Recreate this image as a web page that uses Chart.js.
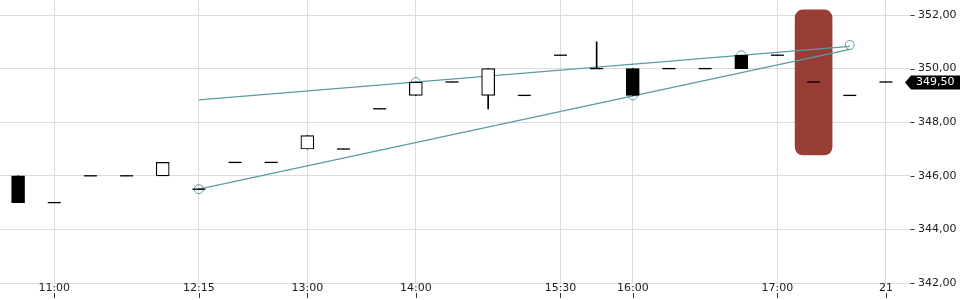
<!DOCTYPE html>
<html lang="de">
<head>
<meta charset="UTF-8">
<title>Kursverlauf</title>
<style>
  html, body { margin: 0; padding: 0; background: #fff; }
  #wrap { width: 960px; height: 300px; }
</style>
</head>
<body>
<div id="wrap"><canvas id="chart" width="960" height="300"></canvas></div>
<script src="https://cdn.jsdelivr.net/npm/chart.js"></script>
<script>
// candles, one per slot (index 0..24)
const opens  = [346, 345, 346, 346, 346,   345.5, 346.5, 346.5, 347,   347, 348.5, 349,   349.5, 349,   349, 350.5, 350, 350, 350, 350, 350.5, 350.5, 349.5, 349, 349.5];
const highs  = [346, 345, 346, 346, 346.5, 345.5, 346.5, 346.5, 347.5, 347, 348.5, 349.5, 349.5, 350,   349, 350.5, 351, 350, 350, 350, 350.5, 350.5, 349.5, 349, 349.5];
const lows   = [345, 345, 346, 346, 346,   345.5, 346.5, 346.5, 347,   347, 348.5, 349,   349.5, 348.5, 349, 350.5, 350, 349, 350, 350, 350,   350.5, 349.5, 349, 349.5];
const closes = [345, 345, 346, 346, 346.5, 345.5, 346.5, 346.5, 347.5, 347, 348.5, 349.5, 349.5, 350,   349, 350.5, 350, 349, 350, 350, 350,   350.5, 349.5, 349, 349.5];

// x axis labels (slot index -> text)
const xTickIdx    = [1, 5, 8, 11, 15, 17, 21, 24];
const xTickLabels = ['11:00', '12:15', '13:00', '14:00', '15:30', '16:00', '17:00', '21'];
const yTicks = [342, 344, 346, 348, 350, 352];

// trend lines and their anchor points
const upperLine = [{x: 5, y: 348.83}, {x: 23, y: 350.83}];
const lowerLine = [{x: 5, y: 345.5}, {x: 23, y: 350.72}];
const anchorIdx = [5, 11, 17, 20, 23];
const anchorVal = [345.5, 349.5, 349, 350.5, 350.88];

// highlighted zone
const zoneIdx = 22;
const zoneRange = [346.78, 352.19];

const teal = '#5a9ca0';
const fmt = v => v.toFixed(2).replace('.', ',');

const bodies = [], wicks = [], flats = [];
opens.forEach((o, i) => {
  const c = closes[i];
  wicks.push({x: i, y: [lows[i], highs[i]]});
  if (o !== c) bodies.push({x: i, y: [o, c]});
  else flats.push({x: i, y: c});
});
const bodyFill = bodies.map(b => b.y[1] < b.y[0] ? '#000' : '#fff');

const axisMarks = {
  id: 'axisMarks',
  afterDraw(chart) {
    const {ctx, chartArea, scales: {x, y}} = chart;
    ctx.save();
    ctx.strokeStyle = '#333';
    ctx.lineWidth = 1;
    xTickIdx.forEach(i => {
      const px = Math.round(x.getPixelForValue(i)) + 0.5;
      ctx.beginPath(); ctx.moveTo(px, 293); ctx.lineTo(px, 298); ctx.stroke();
    });
    yTicks.forEach(v => {
      const py = Math.round(y.getPixelForValue(v)) + 0.5;
      ctx.beginPath(); ctx.moveTo(chartArea.right + 6.5, py); ctx.lineTo(chartArea.right + 10.5, py); ctx.stroke();
    });
    // last price tag
    const last = closes[closes.length - 1];
    const py = Math.round(y.getPixelForValue(last)) + 0.5;
    const left = chartArea.right + 1;
    ctx.fillStyle = '#000';
    ctx.beginPath();
    ctx.moveTo(left, py);
    ctx.lineTo(left + 6, py - 7);
    ctx.lineTo(960, py - 7);
    ctx.lineTo(960, py + 7);
    ctx.lineTo(left + 6, py + 7);
    ctx.closePath();
    ctx.fill();
    ctx.fillStyle = '#fff';
    ctx.font = '11px "DejaVu Sans"';
    ctx.textBaseline = 'middle';
    ctx.fillText(fmt(last), left + 11, py);
    ctx.restore();
  }
};

new Chart(document.getElementById('chart'), {
  type: 'bar',
  data: {
    datasets: [
      {
        data: [{x: zoneIdx, y: zoneRange}],
        backgroundColor: '#993d37',
        barThickness: 37,
        borderRadius: 8,
        borderSkipped: false,
        grouped: false,
        order: 6
      },
      {
        type: 'line', data: upperLine, borderColor: teal, borderWidth: 1.2,
        pointRadius: 0, fill: false, order: 5
      },
      {
        type: 'line', data: lowerLine, borderColor: teal, borderWidth: 1.2,
        pointRadius: 0, fill: false, order: 5
      },
      {
        type: 'line', data: anchorIdx.map((x, i) => ({x, y: anchorVal[i]})),
        showLine: false, pointRadius: 4.5, pointBorderColor: teal, pointBorderWidth: 1,
        pointBackgroundColor: 'rgba(0,0,0,0)', order: 4
      },
      {
        data: wicks, backgroundColor: '#000', barThickness: 1, grouped: false, order: 3
      },
      {
        data: bodies, backgroundColor: bodyFill, borderColor: '#000', borderWidth: 1.2,
        borderSkipped: false, barThickness: 13, grouped: false, order: 2
      },
      {
        type: 'line', data: flats, showLine: false, pointStyle: 'line', pointRadius: 6.5,
        pointBorderColor: '#000', pointBorderWidth: 1.3, order: 1
      }
    ]
  },
  options: {
    responsive: false,
    animation: false,
    events: [],
    layout: { autoPadding: false, padding: 0 },
    plugins: { legend: { display: false }, tooltip: { enabled: false } },
    scales: {
      x: {
        type: 'linear',
        min: -0.5,
        max: 24.5,
        offset: false,
        border: { display: false },
        grid: { color: '#dcdcdc', drawTicks: false, offset: false },
        afterBuildTicks: s => { s.ticks = xTickIdx.map(v => ({value: v})); },
        afterFit: s => { s.height = 17; },
        ticks: {
          autoSkip: false, maxRotation: 0, padding: -1,
          color: '#222', font: { family: 'DejaVu Sans', size: 11 },
          callback: (v, i) => xTickLabels[i]
        }
      },
      y: {
        position: 'right',
        min: 342,
        max: 352.56,
        border: { display: false },
        grid: { color: '#dcdcdc', tickLength: 6 },
        afterBuildTicks: s => { s.ticks = yTicks.map(v => ({value: v})); },
        afterFit: s => { s.width = 56; s.paddingTop = 0; s.paddingBottom = 0; },
        ticks: {
          padding: 8,
          color: '#222', font: { family: 'DejaVu Sans', size: 11 },
          callback: v => fmt(v)
        }
      }
    }
  },
  plugins: [axisMarks]
});
</script>
</body>
</html>
